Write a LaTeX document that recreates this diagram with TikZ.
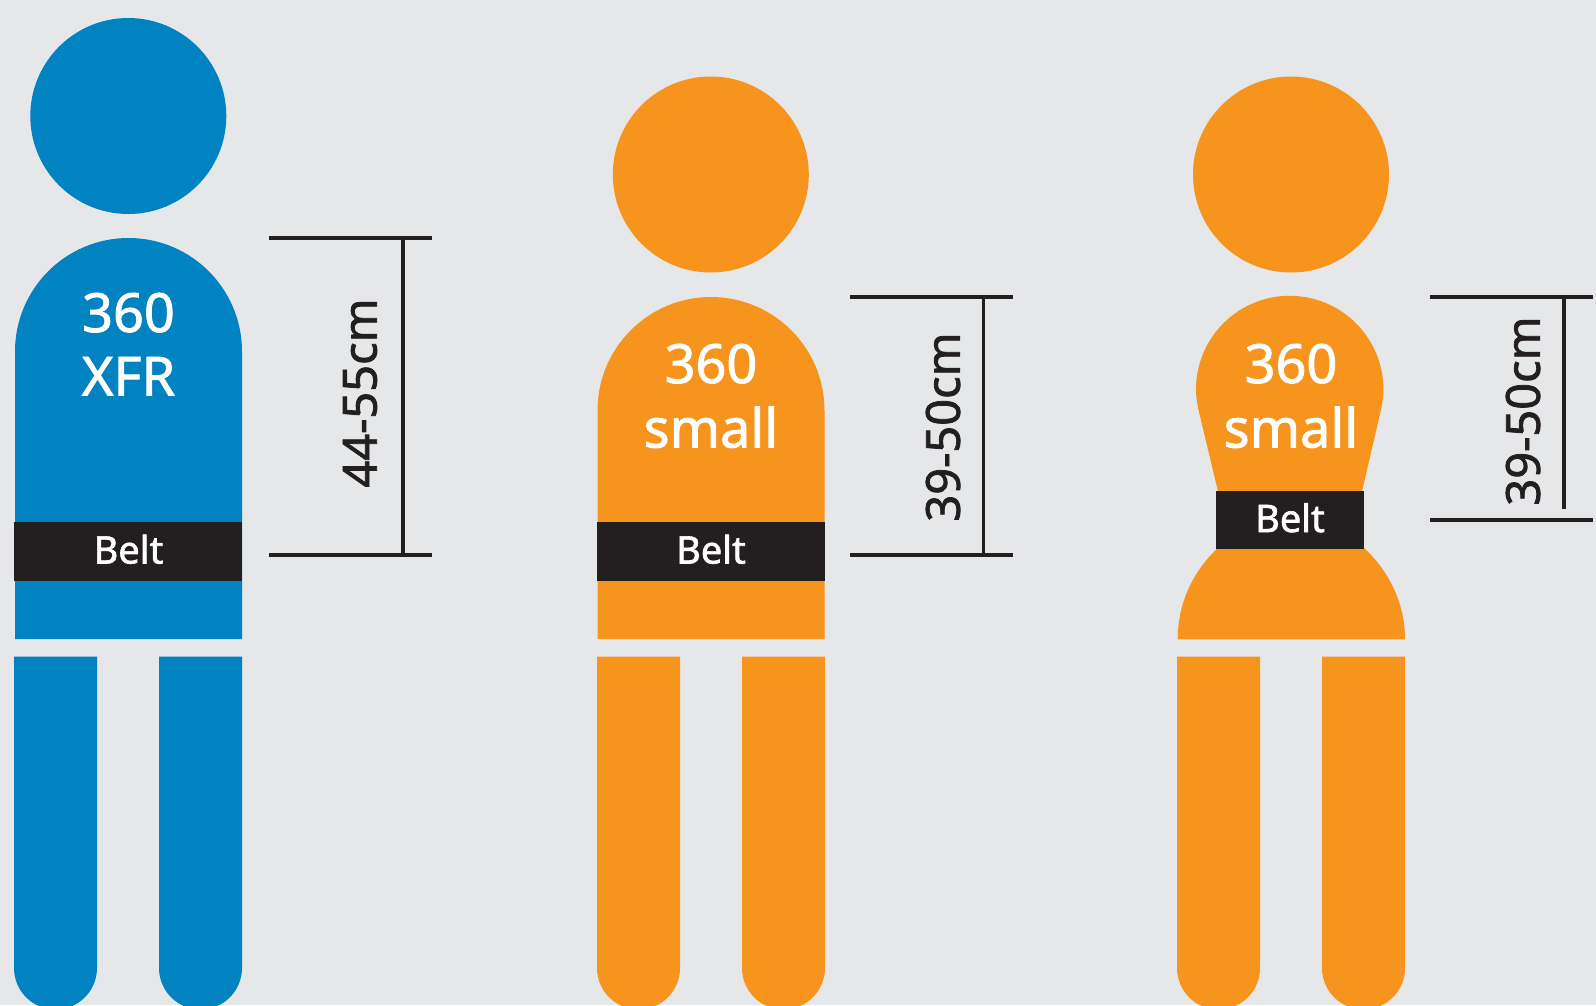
\documentclass[tikz,border=0pt]{standalone}
\usepackage{fontspec}
\setmainfont[RawFeature={embolden=1.6}]{Noto Sans}
\definecolor{bgc}{HTML}{E6E7E8}
\definecolor{bluec}{HTML}{0083C0}
\definecolor{orangec}{HTML}{F7941E}
\definecolor{darkc}{HTML}{231F20}
\tikzset{
  head/.style={circle,inner sep=0pt,minimum size=196pt,draw=none},
  beltbar/.style={rectangle,fill=darkc,draw=none,inner sep=0pt},
  title/.style={inner sep=0pt,anchor=base,text=white,font=\fontsize{54}{54}\selectfont},
  belttext/.style={inner sep=0pt,anchor=base,text=white,font=\fontsize{38}{38}\selectfont},
  dimtext/.style={inner sep=0pt,rotate=90,text=darkc,font=\fontsize{47}{47}\selectfont},
  dimline/.style={draw=darkc,line width=3.8pt},
}
\newcommand{\legpair}[2]{%
  \fill[#2] (#1,656.7) -- (#1+83,656.7) -- (#1+83,968) arc[start angle=0,end angle=180,radius=41.5] -- cycle;
  \fill[#2] (#1+145,656.7) -- (#1+228,656.7) -- (#1+228,968) arc[start angle=0,end angle=180,radius=41.5] -- cycle;
}
\begin{document}
\begin{tikzpicture}[x=1pt,y=-1pt]
\useasboundingbox (0,0) rectangle (1596,1005);
\fill[bgc] (0,0) rectangle (1596,1005);
\begin{scope}
\clip (0,0) rectangle (1596,1005);
% figure 1
\node[head,fill=bluec] (h1) at (128.3,116) {};
\fill[bluec] (15,639) -- (15,351.5) arc[start angle=180,end angle=0,x radius=113.5,y radius=-113.5] -- (242,639) -- cycle;
\legpair{14}{bluec}
% figure 2
\node[head,fill=orangec] (h2) at (710.8,174.5) {};
\fill[orangec] (597.5,639) -- (597.5,410.5) arc[start angle=180,end angle=0,x radius=113.5,y radius=-113.5] -- (824.5,639) -- cycle;
\legpair{597}{orangec}
% figure 3
\node[head,fill=orangec] (h3) at (1291,174.5) {};
\fill[orangec] (1218,491.5) -- (1199,412) .. controls (1197,404) and (1196,397) .. (1196,389.5)
  arc[start angle=180,end angle=0,x radius=93.7,y radius=-93.7]
  .. controls (1383.4,397) and (1382.4,404) .. (1380.4,412) -- (1362,491.5) -- cycle;
\fill[orangec] (1218,548) .. controls (1194,570) and (1177.7,602) .. (1177.7,639.3) -- (1405,639.3) .. controls (1405,602) and (1388,570) .. (1364,548) -- cycle;
\legpair{1177}{orangec}
\end{scope}
% belts
\node[beltbar,minimum width=228pt,minimum height=58.5pt] (b1) at (128,551.7) {};
\node[beltbar,minimum width=228pt,minimum height=58.5pt] (b2) at (711,551.7) {};
\node[beltbar,minimum width=148pt,minimum height=58.5pt] (b3) at (1290,520) {};
\node[belttext] (bt1) at (128.5,563.5) {Belt};
\node[belttext] (bt2) at (711,563.5) {Belt};
\node[belttext] (bt3) at (1290,532) {Belt};
% labels
\node[title] (t1a) at (128.5,332) {360};
\node[title] (t1b) at (128.5,395.5) {XFR};
\node[title] (t2a) at (711,383) {360};
\node[title] (t2b) at (711,447.5) {small};
\node[title] (t3a) at (1291,383) {360};
\node[title] (t3b) at (1291,447.5) {small};
% dimensions
\coordinate (d1a) at (269,238);
\coordinate (d1b) at (432,238);
\coordinate (d1c) at (269,555);
\coordinate (d1d) at (432,555);
\coordinate (d1e) at (403,238);
\coordinate (d1f) at (403,555);
\draw[dimline] (d1a) -- (d1b);
\draw[dimline] (d1c) -- (d1d);
\draw[dimline] (d1e) -- (d1f);
\node[dimtext] (dt1) at (360,393) {44-55cm};
\coordinate (d2a) at (850,297.3);
\coordinate (d2b) at (1013,297.3);
\coordinate (d2c) at (850,555);
\coordinate (d2d) at (1013,555);
\coordinate (d2e) at (983.5,297.3);
\coordinate (d2f) at (983.5,555);
\draw[dimline] (d2a) -- (d2b);
\draw[dimline] (d2c) -- (d2d);
\draw[dimline] (d2e) -- (d2f);
\node[dimtext] (dt2) at (943,427) {39-50cm};
\coordinate (d3a) at (1430,297.3);
\coordinate (d3b) at (1593,297.3);
\coordinate (d3c) at (1430,520);
\coordinate (d3d) at (1593,520);
\coordinate (d3e) at (1563.7,297.3);
\coordinate (d3f) at (1563.7,509);
\draw[dimline] (d3a) -- (d3b);
\draw[dimline] (d3c) -- (d3d);
\draw[dimline] (d3e) -- (d3f);
\node[dimtext] (dt3) at (1523,411) {39-50cm};
\end{tikzpicture}
\end{document}
